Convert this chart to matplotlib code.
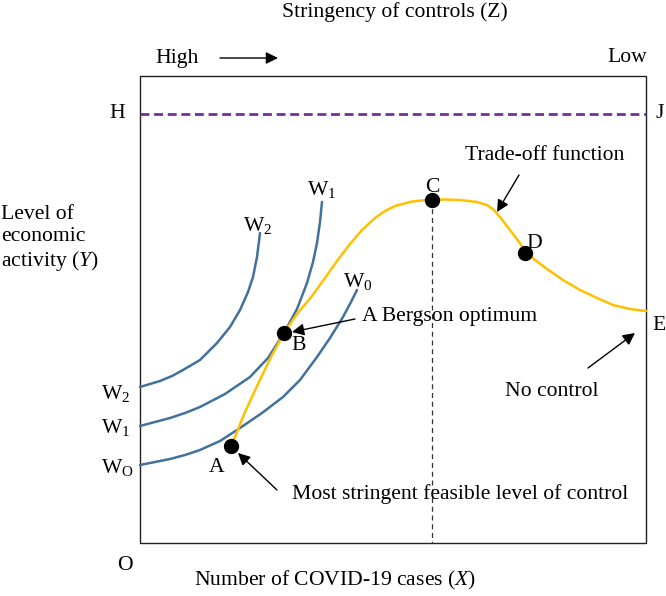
import matplotlib.pyplot as plt
from matplotlib.patches import Rectangle

plt.rcParams['font.family'] = 'Liberation Serif'
plt.rcParams['mathtext.fontset'] = 'custom'
plt.rcParams['mathtext.rm'] = 'Liberation Serif'
plt.rcParams['mathtext.it'] = 'Liberation Serif:italic'

# curves (x to the right, y downwards)
tradeoff_x = [233, 245, 258, 271, 284, 297, 312, 325, 337, 350, 362, 375, 385, 395, 410, 420, 432,
              445, 460, 477, 487, 494, 500, 510, 525, 535, 547, 563, 580, 597, 613, 630, 646]
tradeoff_y = [442, 412, 384, 357, 333, 314, 296, 278, 261, 244, 230, 218, 211, 206, 202, 200.5, 200,
              199.5, 200, 202, 205, 210, 217, 230, 250, 260, 269, 280, 290, 298, 305, 309, 311]

w0_x = [140, 155, 170, 185, 200, 220, 240, 262, 283, 300, 317, 330, 343, 351, 357]
w0_y = [465, 462, 459, 455, 450, 441, 428, 413, 397, 380, 357, 338, 317, 302, 290]
w1_x = [140, 155, 170, 185, 200, 225, 250, 268, 284, 297, 307, 313, 317, 320, 322]
w1_y = [426, 422, 418, 413, 407, 394, 377, 358, 333, 309, 283, 262, 243, 222, 202]
w2_x = [140, 150, 160, 172, 183, 200, 217, 230, 240, 248, 253, 257, 260]
w2_y = [387, 384, 381, 376, 370, 360, 343, 327, 310, 292, 277, 257, 233]

point_names = ['A', 'B', 'C', 'D']
point_x = [231, 284, 432, 525]
point_y = [446, 333, 200, 253]

box_left, box_right, box_top, box_bottom = 140, 646, 76, 543
hj_y = 114

blue = '#41719C'
orange = '#FFC000'
purple = '#7030A0'
fs = 15.6

fig = plt.figure(figsize=(6.66, 5.96), dpi=100)
ax = fig.add_axes([0, 0, 1, 1])
ax.set_xlim(0, 666)
ax.set_ylim(596, 0)
ax.axis('off')

ax.add_patch(Rectangle((box_left, box_top), box_right - box_left, box_bottom - box_top,
                       fill=False, ec='#222222', lw=1.0))
ax.plot([box_left, box_right], [hj_y, hj_y], color=purple, lw=2, ls=(0, (3.2, 1.7)))
ax.plot([point_x[2], point_x[2]], [point_y[2], box_bottom], color='#333333', lw=0.9, ls=(0, (4, 3)))

for xs, ys in [(w0_x, w0_y), (w1_x, w1_y), (w2_x, w2_y)]:
    ax.plot(xs, ys, color=blue, lw=1.8, solid_capstyle='round', solid_joinstyle='round')
ax.plot(tradeoff_x, tradeoff_y, color=orange, lw=1.8, solid_capstyle='round', solid_joinstyle='round')
ax.plot(point_x, point_y, 'o', color='black', ms=10, zorder=5)

# point labels
ax.text(217, 468, 'A', fontsize=fs, ha='center', va='center')
ax.text(298, 346, 'B', fontsize=fs, ha='center', va='center')
ax.text(432, 187, 'C', fontsize=fs, ha='center', va='center')
ax.text(534, 243, 'D', fontsize=fs, ha='center', va='center')
ax.text(659, 326, 'E', fontsize=fs, ha='center', va='center')
ax.text(117, 114, 'H', fontsize=fs, ha='center', va='center')
ax.text(660, 114, 'J', fontsize=fs, ha='center', va='center')
ax.text(125, 566, 'O', fontsize=fs, ha='center', va='center')

# curve labels
ax.text(116, 393, r'W$_2$', fontsize=fs, ha='center', va='center')
ax.text(116, 428, r'W$_1$', fontsize=fs, ha='center', va='center')
ax.text(117, 468, r'W$_\mathrm{O}$', fontsize=fs, ha='center', va='center')
ax.text(258, 225, r'W$_2$', fontsize=fs, ha='center', va='center')
ax.text(322, 190, r'W$_1$', fontsize=fs, ha='center', va='center')
ax.text(358, 281, r'W$_0$', fontsize=fs, ha='center', va='center')

# axis titles
ax.text(395, 12, 'Stringency of controls (Z)', fontsize=fs, ha='center', va='center')
ax.text(335, 580, r'Number of COVID-19 cases ($\mathit{X}$)', fontsize=fs, ha='center', va='center')
ax.text(1, 239, 'Level of\neconomic\nactivity ($\\mathit{Y}$)', fontsize=fs, ha='left', va='center',
        linespacing=1.2)
ax.text(177, 58, 'High', fontsize=fs, ha='center', va='center')
ax.text(627, 58, 'Low', fontsize=fs, ha='center', va='center')

arrow = dict(arrowstyle='-|>', color='black', lw=1.0, mutation_scale=18, shrinkA=0, shrinkB=0)
ax.annotate('', xy=(278, 58), xytext=(220, 58), arrowprops=arrow)

ax.text(362, 316, 'A Bergson optimum', fontsize=fs, ha='left', va='center')
ax.annotate('', xy=(292, 332), xytext=(355, 319), arrowprops=arrow)

ax.text(465, 156, 'Trade-off function', fontsize=fs, ha='left', va='center')
ax.annotate('', xy=(497, 212), xytext=(519, 175), arrowprops=arrow)

ax.text(505, 392, 'No control', fontsize=fs, ha='left', va='center')
ax.annotate('', xy=(635, 333), xytext=(588, 368), arrowprops=arrow)

ax.text(292, 494, 'Most stringent feasible level of control', fontsize=fs, ha='left', va='center')
ax.annotate('', xy=(238, 453), xytext=(277, 490), arrowprops=arrow)

fig.savefig('out.png', dpi=100)
